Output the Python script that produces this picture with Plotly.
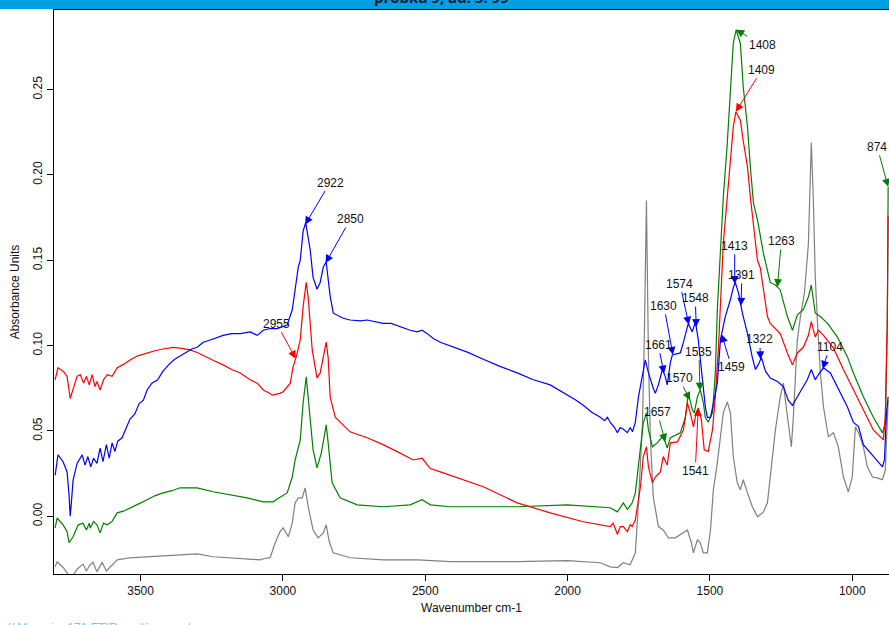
import numpy as np
import plotly.graph_objects as go

# ---------------- data (wavenumber cm-1, absorbance) ----------------
blue_wn = [3800,3790,3772,3758,3751,3747,3743,3737,3723,3712,3705,3695,3685,3675,3665,3653,3642,3632,3620,3610,
           3600,3590,3580,3565,3550,3537,3520,3505,3490,3477,3460,3440,3421,3400,3380,3361,3340,3320,3301,3280,
           3260,3245,3210,3180,3150,3115,3090,3069,3045,3020,2999,2985,2967,2957,2946,2939,2929,2920,2911,2904,
           2894,2880,2869,2858,2848,2841,2834,2823,2799,2788,2764,2728,2704,2680,2648,2620,2588,2553,2528,2511,
           2493,2470,2447,2412,2350,2296,2240,2177,2120,2061,2030,2001,1970,1945,1915,1885,1870,1860,1850,1835,
           1825,1815,1804,1790,1780,1772,1762,1751,1737,1727,1716,1709,1699,1692,1681,1667,1657,1650,1639,1632,
           1618,1604,1593,1576,1562,1551,1541,1527,1516,1509,1498,1488,1474,1463,1446,1428,1418,1411,1400,1386,
           1368,1351,1340,1330,1319,1305,1288,1263,1242,1225,1210,1200,1182,1158,1144,1130,1119,1101,1077,1052,
           1017,996,978,961,926,894,887,880,874]
blue_ab = [0.024,0.036,0.032,0.026,0.012,0.000,0.008,0.021,0.031,0.034,0.036,0.030,0.035,0.029,0.034,0.031,0.040,0.032,0.042,0.034,
           0.043,0.038,0.044,0.046,0.052,0.057,0.060,0.066,0.068,0.074,0.078,0.080,0.085,0.089,0.092,0.094,0.096,0.098,0.099,0.102,
           0.103,0.104,0.106,0.107,0.107,0.108,0.106,0.109,0.110,0.110,0.111,0.112,0.121,0.134,0.146,0.150,0.167,0.172,0.164,0.156,
           0.140,0.133,0.137,0.146,0.149,0.140,0.129,0.119,0.117,0.116,0.115,0.1145,0.115,0.114,0.113,0.113,0.111,0.109,0.108,0.109,
           0.107,0.104,0.102,0.100,0.096,0.092,0.088,0.084,0.080,0.077,0.074,0.071,0.068,0.065,0.061,0.058,0.056,0.058,0.055,0.052,
           0.049,0.052,0.051,0.049,0.052,0.0495,0.055,0.070,0.082,0.0916,0.084,0.080,0.075,0.072,0.077,0.086,0.082,0.077,0.090,0.0945,
           0.095,0.0957,0.102,0.113,0.108,0.114,0.1035,0.080,0.064,0.058,0.058,0.066,0.078,0.1035,0.117,0.127,0.134,0.137,0.131,0.119,
           0.107,0.093,0.086,0.089,0.093,0.085,0.081,0.079,0.076,0.068,0.065,0.068,0.073,0.080,0.086,0.080,0.083,0.087,0.084,0.076,
           0.064,0.055,0.0526,0.042,0.035,0.029,0.033,0.060,0.070]

red_wn = [3800,3790,3772,3758,3747,3737,3723,3712,3700,3690,3680,3670,3660,3653,3642,3630,3617,3600,3582,3560,
          3537,3510,3477,3450,3421,3386,3361,3326,3301,3266,3240,3210,3180,3150,3115,3090,3069,3045,3038,3010,
          2999,2974,2964,2953,2939,2929,2918,2911,2897,2880,2869,2858,2848,2841,2834,2816,2764,2704,2648,2588,
          2542,2511,2482,2447,2296,2177,2061,1945,1885,1850,1840,1825,1815,1804,1790,1780,1773,1762,1744,1734,
          1723,1716,1702,1692,1674,1664,1650,1639,1614,1593,1579,1569,1558,1548,1541,1530,1520,1506,1491,1481,
          1470,1460,1453,1439,1428,1418,1409,1393,1383,1368,1358,1347,1333,1323,1312,1298,1288,1253,1228,1210,
          1193,1172,1154,1144,1130,1119,1101,1066,1031,996,961,926,891,884,877,874]
red_ab = [0.080,0.087,0.085,0.082,0.069,0.074,0.082,0.083,0.078,0.082,0.077,0.083,0.076,0.079,0.074,0.080,0.083,0.082,0.087,0.089,
          0.0916,0.094,0.0957,0.097,0.098,0.099,0.0985,0.0975,0.096,0.0934,0.091,0.0887,0.086,0.084,0.080,0.078,0.074,0.072,0.071,0.072,
          0.073,0.078,0.0877,0.0934,0.1033,0.1227,0.137,0.128,0.0975,0.081,0.084,0.0934,0.102,0.093,0.070,0.058,0.0495,0.046,0.042,0.037,
          0.033,0.034,0.028,0.026,0.0173,0.0079,0.002,-0.0032,-0.005,-0.006,-0.004,-0.0105,-0.006,-0.006,-0.009,-0.005,-0.006,-0.002,0.0173,0.035,
          0.0407,0.029,0.0196,0.023,0.026,0.035,0.030,0.043,0.0436,0.0506,0.0664,0.0606,0.0524,0.061,0.0635,0.0565,0.039,0.038,0.0506,0.070,
          0.099,0.1326,0.160,0.187,0.2087,0.228,0.237,0.232,0.220,0.2046,0.187,0.1717,0.150,0.1455,0.134,0.117,0.113,0.107,0.0957,0.0887,
          0.0957,0.099,0.106,0.114,0.105,0.109,0.106,0.0985,0.086,0.074,0.0624,0.0506,0.0448,0.058,0.113,0.176]

green_wn = [3800,3793,3772,3758,3751,3737,3719,3702,3690,3680,3677,3665,3653,3642,3630,3617,3600,3582,3560,3537,
            3510,3477,3450,3421,3390,3361,3301,3245,3185,3126,3069,3034,3020,2985,2967,2957,2939,2929,2918,2908,
            2894,2880,2865,2855,2848,2841,2827,2799,2739,2648,2553,2511,2482,2412,2177,2001,1885,1850,1825,1804,
            1790,1773,1762,1744,1734,1723,1716,1702,1685,1667,1657,1650,1639,1604,1586,1576,1562,1555,1544,1534,
            1523,1516,1506,1491,1481,1474,1463,1453,1439,1428,1418,1408,1393,1383,1368,1358,1347,1333,1323,1312,
            1298,1288,1270,1253,1228,1210,1193,1172,1154,1144,1130,1112,1087,1052,1017,996,961,926,894,884,
            877,874]
green_ab = [-0.0068,-0.001,-0.005,-0.009,-0.0155,-0.012,-0.005,-0.004,-0.008,-0.004,-0.007,-0.003,-0.005,-0.0097,-0.004,-0.005,-0.003,0.002,0.003,0.005,
            0.007,0.0097,0.012,0.0137,0.015,0.0167,0.0167,0.0144,0.0126,0.0108,0.0085,0.0085,0.0102,0.0137,0.023,0.033,0.0448,0.0664,0.0817,0.0624,
            0.039,0.0284,0.0372,0.0466,0.0536,0.043,0.0196,0.0108,0.0067,0.0056,0.0067,0.0097,0.0067,0.0056,0.0056,0.0067,0.0056,0.005,0.0026,0.0079,
            0.004,0.0079,0.0137,0.0407,0.0547,0.0606,0.0506,0.0407,0.043,0.0466,0.0436,0.040,0.046,0.0489,0.058,0.0723,0.0624,0.0606,0.070,0.074,
            0.0664,0.0577,0.0553,0.0606,0.084,0.121,0.152,0.187,0.2186,0.25,0.277,0.285,0.277,0.2515,0.228,0.2046,0.1835,0.1736,0.1637,0.154,
            0.144,0.137,0.1355,0.1326,0.117,0.109,0.118,0.121,0.1286,0.1355,0.119,0.117,0.113,0.105,0.0934,0.084,0.070,0.058,0.0489,0.0547,
            0.113,0.193]

gray_wn = [3800,3793,3772,3758,3745,3735,3723,3702,3690,3680,3667,3653,3635,3620,3607,3582,3537,3477,3421,3361,
           3301,3245,3185,3126,3080,3055,3045,3027,3010,2999,2981,2967,2957,2946,2932,2922,2911,2894,2876,2858,
           2848,2837,2823,2764,2648,2528,2412,2177,2001,1885,1850,1825,1804,1780,1762,1751,1737,1730,1723,1716,
           1709,1699,1681,1664,1646,1621,1597,1579,1565,1558,1544,1534,1523,1509,1498,1488,1474,1463,1453,1439,
           1428,1418,1404,1393,1383,1368,1351,1333,1323,1312,1298,1288,1270,1253,1242,1235,1225,1214,1207,1193,
           1182,1168,1154,1144,1137,1130,1122,1112,1101,1084,1066,1049,1031,1014,1000,989,978,961,947,929,
           912,894,884,874]
gray_ab = [-0.0296,-0.0266,-0.030,-0.033,-0.036,-0.034,-0.031,-0.028,-0.032,-0.029,-0.027,-0.0325,-0.027,-0.032,-0.0296,-0.0255,-0.0243,-0.0237,-0.0231,-0.0225,
           -0.022,-0.0237,-0.0243,-0.0249,-0.0255,-0.0243,-0.0243,-0.0155,-0.009,-0.0068,-0.012,-0.0038,0.0079,0.0108,0.0108,0.0167,0.0056,-0.008,-0.0126,-0.0097,
           -0.005,-0.0149,-0.0214,-0.0243,-0.0255,-0.0255,-0.0266,-0.0266,-0.026,-0.0272,-0.0296,-0.030,-0.0272,-0.0284,-0.0214,0.0079,0.0547,0.109,0.185,0.0934,
           0.0448,0.0114,-0.006,-0.008,-0.0126,-0.0126,-0.0097,-0.008,-0.0155,-0.0214,-0.0138,-0.0155,-0.0214,-0.0214,-0.008,0.0155,0.0313,0.0466,0.0606,0.067,
           0.0606,0.035,0.0196,0.0155,0.0214,0.0137,0.0056,-0.0003,0.0009,0.0026,0.0079,0.023,0.0506,0.070,0.078,0.068,0.0547,0.0407,0.058,0.1033,
           0.117,0.131,0.16,0.219,0.187,0.140,0.113,0.084,0.064,0.0466,0.049,0.0407,0.023,0.0143,0.023,0.0524,0.049,0.0407,0.029,0.023,
           0.0225,0.0214,0.027,0.068]

x_ticks = [3500, 3000, 2500, 2000, 1500, 1000]
y_ticks = [0.00, 0.05, 0.10, 0.15, 0.20, 0.25]

# peak labels: (label, series, text offset x px, text offset y px)
peak_labels = [
    ("2922", "blue", 25, -42), ("2850", "blue", 25, -44), ("2955", "red", -19, -35),
    ("1408", "green", 26, 15), ("1409", "red", 26, -42), ("874", "green", -11, -40),
    ("1263", "green", 4, -46), ("1413", "blue", 0, -38), ("1391", "blue", 1, -31),
    ("1574", "blue", -9, -41), ("1548", "blue", -1, -29), ("1630", "blue", -9, -49),
    ("1661", "blue", -6, -29), ("1535", "green", -1, -39), ("1570", "green", -11, -22),
    ("1459", "blue", 10, 33), ("1322", "blue", -1, -20), ("1104", "blue", 7, -22),
    ("1657", "green", -8, -30), ("1541", "red", -3, 63),
]

series = {
    "gray": (gray_wn, gray_ab, "#808080"),
    "green": (green_wn, green_ab, "#008000"),
    "red": (red_wn, red_ab, "#ff0000"),
    "blue": (blue_wn, blue_ab, "#0000ff"),
}

FONT = "Liberation Sans, Arial, sans-serif"

fig = go.Figure()
for name in ["gray", "green", "red", "blue"]:
    wn, ab, col = series[name]
    fig.add_trace(go.Scatter(x=wn, y=ab, mode="lines", name=name,
                             line=dict(color=col, width=1.2), showlegend=False))

for lab, sname, ax, ay in peak_labels:
    wn, ab, col = series[sname]
    xv = float(lab)
    yv = float(np.interp(xv, wn[::-1], ab[::-1]))
    fig.add_annotation(x=xv, y=yv, text=lab, showarrow=True, arrowhead=2, arrowsize=1.6,
                       arrowwidth=1, arrowcolor=col, ax=ax, ay=ay, standoff=0,
                       font=dict(family=FONT, size=12, color="#111111"))

# header bar and (cut off) title
fig.add_shape(type="rect", xref="paper", yref="paper", x0=-0.1, x1=1.1, y0=1.0018, y1=1.03,
              fillcolor="#009ee2", line=dict(width=0), layer="above")
fig.add_annotation(xref="paper", yref="paper", x=(441 - 54) / 835, y=1.0, yanchor="bottom",
                   yshift=1, text="<b>probka 9, ad. 3. 99</b>", showarrow=False,
                   font=dict(family="Open Sans, sans-serif", size=15, color="#1a1a2e"))
# footer text (cut off at the bottom edge in the original)
fig.add_annotation(xref="paper", yref="paper", x=-0.058, y=0.0, xanchor="left", yanchor="top",
                   yshift=-45, text="l/ Meranie: 171 FTIR analýza vzorky", showarrow=False,
                   font=dict(family=FONT, size=12, color="#6cc8ee"))

fig.update_layout(
    width=889, height=625,
    margin=dict(l=54, r=0, t=10, b=51),
    paper_bgcolor="white", plot_bgcolor="white",
    font=dict(family=FONT, size=12, color="#111111"),
    xaxis=dict(range=[3804, 871], tickvals=x_ticks, tickformat="d", showgrid=False, zeroline=False,
               showline=True, linecolor="black", linewidth=1, mirror=True,
               ticks="outside", ticklen=6, tickcolor="black",
               title=dict(text="Wavenumber cm-1", standoff=6, font=dict(size=12))),
    yaxis=dict(range=[-0.0338, 0.2966], tickvals=y_ticks, tickformat=".2f", showgrid=False, zeroline=False,
               showline=True, linecolor="black", linewidth=1, tickangle=-90,
               ticks="outside", ticklen=6, tickcolor="black",
               title=dict(text="Absorbance Units", standoff=9, font=dict(size=12))),
)

fig.write_html("out.html", config={"displayModeBar": False},
               post_script="document.body.style.margin='0';document.body.style.overflow='hidden';")
